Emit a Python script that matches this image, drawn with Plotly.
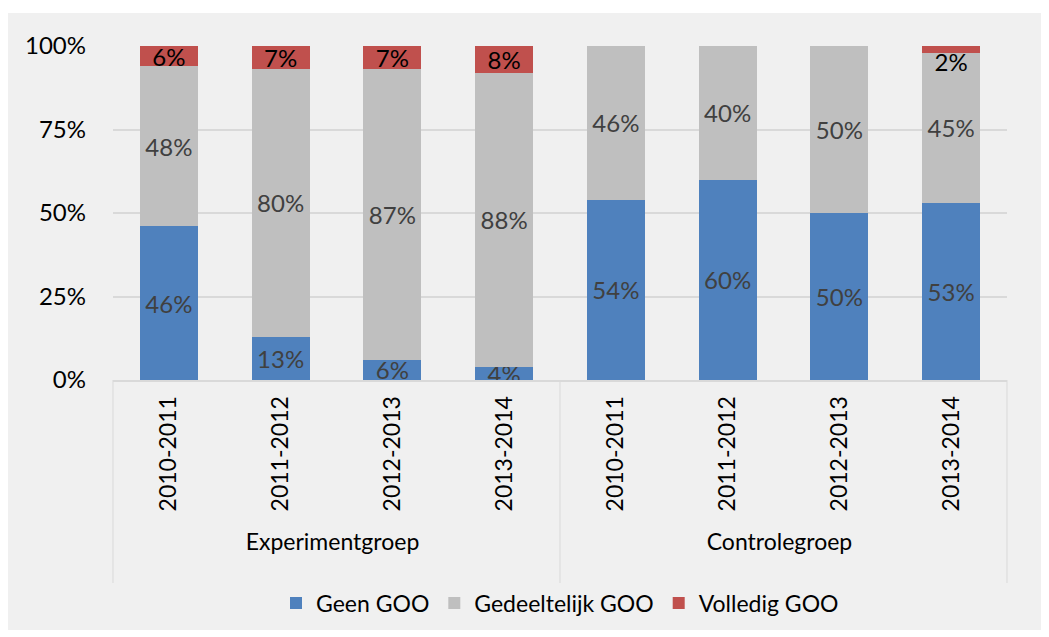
import plotly.graph_objects as go

groups = ["Experimentgroep"] * 4 + ["Controlegroep"] * 4
years = ["2010-2011", "2011-2012", "2012-2013", "2013-2014"] * 2

geen = [46, 13, 6, 4, 54, 60, 50, 53]
gedeeltelijk = [48, 80, 87, 88, 46, 40, 50, 45]
volledig = [6, 7, 7, 8, 0, 0, 0, 2]

font = "Lato"
label_grey = "#404040"
lbl_size = 24


def labels(vals, skip_small=False):
    out = []
    for v in vals:
        if v == 0 or (skip_small and v < 3):
            out.append("")
        else:
            out.append(f"{v}%")
    return out


fig = go.Figure()
fig.add_trace(go.Bar(
    x=[groups, years], y=geen, name="Geen GOO", marker_color="#4f81bd",
    marker_line_width=0,
    text=labels(geen), textposition="inside", insidetextanchor="middle",
    textfont=dict(color=label_grey, size=lbl_size, family=font),
))
fig.add_trace(go.Bar(
    x=[groups, years], y=gedeeltelijk, name="Gedeeltelijk GOO", marker_color="#bfbfbf",
    marker_line_width=0,
    text=labels(gedeeltelijk), textposition="inside", insidetextanchor="middle",
    textfont=dict(color=label_grey, size=lbl_size, family=font),
))
fig.add_trace(go.Bar(
    x=[groups, years], y=volledig, name="Volledig GOO", marker_color="#c0504d",
    marker_line_width=0,
    text=labels(volledig, skip_small=True), textposition="inside", insidetextanchor="middle",
    textfont=dict(color="black", size=lbl_size, family=font),
))

# small red slice: label just below the segment, as in the original
small = [i for i, v in enumerate(volledig) if 0 < v < 3]
fig.add_trace(go.Scatter(
    x=[[groups[i] for i in small], [years[i] for i in small]],
    y=[geen[i] + gedeeltelijk[i] for i in small],
    text=[f"{volledig[i]}%" for i in small],
    mode="text", textposition="bottom center",
    textfont=dict(color="black", size=lbl_size, family=font),
    showlegend=False, hoverinfo="skip", cliponaxis=False,
))

# page has an 8px body margin, so the figure starts at (8, 8)
W, H = 1033, 622
L, R, T, B = 105, 34, 38, 250
pw, ph = W - L - R, H - T - B

# group dividers under the axis, down to the bottom of the label block
div_bottom = -(575 - T - ph) / ph
dividers = [dict(type="line", xref="paper", yref="paper", x0=xp, x1=xp,
                 y0=0, y1=div_bottom, line=dict(color="#d9d9d9", width=1))
            for xp in (0, 0.5, 1)]

fig.update_layout(
    width=W, height=H,
    barmode="stack", bargap=0.48,
    uniformtext=dict(minsize=lbl_size, mode="show"),
    paper_bgcolor="white", plot_bgcolor="white",
    margin=dict(l=L, r=R, t=T, b=B, autoexpand=False),
    font=dict(family=font, size=20, color="black"),
    showlegend=True,
    legend=dict(orientation="h", x=0.5, xanchor="center", y=-(595 - T - ph) / ph,
                yanchor="middle", bgcolor="rgba(0,0,0,0)",
                font=dict(size=23), itemwidth=30, traceorder="normal"),
    shapes=[dict(
        type="rect", xref="paper", yref="paper", layer="below",
        x0=-L / pw, x1=1 + R / pw,
        y0=-B / ph, y1=1 + (T - 5) / ph,
        fillcolor="#f0f0f0", line_width=0,
    )] + dividers,
)
fig.update_xaxes(
    type="multicategory", tickangle=-90, showline=True, linecolor="#d9d9d9",
    linewidth=2, showdividers=False, automargin=False,
    tickfont=dict(size=23, family=font), ticks="", ticklabelstandoff=5,
)
fig.update_yaxes(
    range=[0, 100], dtick=25, ticksuffix="%", showgrid=True, gridcolor="#d9d9d9",
    gridwidth=2, zeroline=False, tickfont=dict(size=24, family=font), ticklen=0,
    automargin=False, ticklabelstandoff=26,
)

fig.write_html("out.html")
